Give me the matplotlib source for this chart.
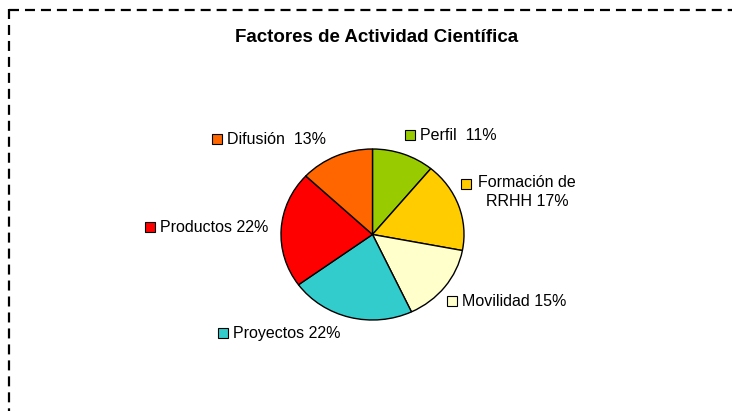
#!/usr/bin/env python3
#-*- coding:utf-8 -*-

import matplotlib
matplotlib.use("Agg")
import matplotlib.pyplot as plt
from matplotlib.lines import Line2D

# data, clockwise from 12 o'clock
factores = ["Perfil", "Formación de\nRRHH", "Movilidad", "Proyectos", "Productos", "Difusión"]
porcentajes = [11, 17, 15, 22, 22, 13]
colores = ["#99CC00", "#FFCC00", "#FFFFCC", "#33CCCC", "#FF0000", "#FF6600"]
etiquetas = ["Perfil  11%", "Formación de\nRRHH 17%", "Movilidad 15%",
             "Proyectos 22%", "Productos 22%", "Difusión  13%"]

W, H = 732, 411

def plotThat():
    plt.rcParams['font.family'] = ['Liberation Sans', 'DejaVu Sans']
    fig = plt.figure(figsize=(W / 100, H / 100), dpi=100)

    # pie, slightly wider than tall like the original
    cx, cy, rx, ry = 372.5, 234.5, 91.5, 85.5
    ax = fig.add_axes([(cx - rx) / W, 1 - (cy + ry) / H, 2 * rx / W, 2 * ry / H])
    ax.pie(porcentajes, colors=colores, startangle=90, counterclock=False,
           wedgeprops=dict(edgecolor="black", linewidth=1.0))
    ax.set_aspect("auto")
    ax.set_xlim(-1.0, 1.0)
    ax.set_ylim(-1.0, 1.0)
    ax.axis("off")

    # overlay in pixel coordinates for title, labels and border
    ov = fig.add_axes([0, 0, 1, 1], facecolor="none")
    ov.set_xlim(0, W)
    ov.set_ylim(H, 0)
    ov.axis("off")

    ov.text(377, 37, "Factores de Actividad Científica", ha="center", va="center",
            fontsize=13.5, fontweight="bold")

    # legend key position (square) for each label
    posiciones = [(410, 135), (466, 184), (452, 301), (223, 333), (150, 227), (217, 139)]
    for etq, col, (x, y) in zip(etiquetas, colores, posiciones):
        ov.plot(x, y, marker="s", markersize=6.5, markerfacecolor=col,
                markeredgecolor="black", markeredgewidth=0.8, linestyle="none")
        if "\n" in etq:
            ov.text(527, y - 9, etq, ha="center", va="top", fontsize=11.5,
                    linespacing=1.3)
        else:
            ov.text(x + 10, y, etq, ha="left", va="center", fontsize=11.5)

    # dashed frame (right and bottom sides are cut off in the original)
    plt.rcParams['lines.scale_dashes'] = False
    top = Line2D([8.5, 760], [10, 10], color="black", linewidth=1.6,
                 dashes=(7.2, 4.3))
    left = Line2D([8.5, 8.5], [9, 430], color="black", linewidth=1.6,
                  dashes=(7.2, 4.3))
    ov.add_line(top)
    ov.add_line(left)

    plt.savefig("out.png", dpi=100)

if __name__ == '__main__':
    plotThat()
